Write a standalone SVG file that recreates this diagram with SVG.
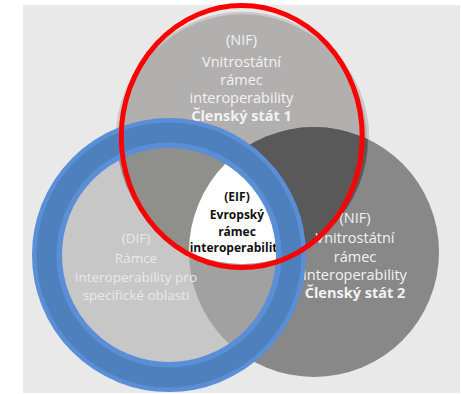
<svg xmlns="http://www.w3.org/2000/svg" width="461" height="394" viewBox="0 0 461 394">
<style>
.w{font-family:"Open Sans","Noto Sans",sans-serif;font-size:14.5px;fill:#f2f2f2;text-anchor:middle}
.wd{font-family:"Open Sans","Noto Sans",sans-serif;font-size:13.5px;fill:#e9e9e9;text-anchor:middle}
.b{font-weight:bold}
.k{font-family:"Open Sans","Noto Sans",sans-serif;font-size:12px;font-weight:bold;fill:#111;text-anchor:middle}
</style>
<defs>
<clipPath id="cA"><circle cx="242.5" cy="138.5" r="125.5"/></clipPath>
<clipPath id="cB"><circle cx="314" cy="252" r="125"/></clipPath>
</defs>
<rect x="0" y="0" width="461" height="394" fill="#ffffff"/>
<rect x="23" y="5" width="437" height="388" fill="#e9e9e9"/>
<g id="areas">
<circle cx="242.5" cy="138.5" r="125.5" fill="#b2afaf" stroke="#cbc9c9" stroke-width="2.5"/>
<circle cx="314" cy="252" r="125" fill="#888888"/>
<circle cx="169" cy="255" r="122" fill="#c7c7c7"/>
<circle cx="314" cy="252" r="125" fill="#595959" clip-path="url(#cA)"/>
<circle cx="169" cy="255" r="122" fill="#8f8f8b" clip-path="url(#cA)"/>
<circle cx="169" cy="255" r="122" fill="#a1a1a1" clip-path="url(#cB)"/>
<g clip-path="url(#cA)"><circle cx="169" cy="255" r="122" fill="#ffffff" clip-path="url(#cB)"/></g>
</g>
<g id="nif1">
<text class="w" x="241.5" y="45">(NIF)</text>
<text class="w" x="241.5" y="66.5">Vnitrostátní</text>
<text class="w" x="241.5" y="84.5">rámec</text>
<text class="w" x="241.5" y="102.5">interoperability</text>
<text class="w b" x="241.5" y="120.5">Členský stát 1</text>
</g>
<g id="nif2">
<text class="w" x="355" y="223">(NIF)</text>
<text class="w" x="355" y="243">Vnitrostátní</text>
<text class="w" x="355" y="262">rámec</text>
<text class="w" x="355" y="280">interoperability</text>
<text class="w b" x="355" y="298">Členský stát 2</text>
</g>
<g id="dif">
<text class="wd" x="136" y="243">(DIF)</text>
<text class="wd" x="136" y="263">Rámce</text>
<text class="wd" x="136" y="281.5">interoperability pro</text>
<text class="wd" x="136" y="300">specifické oblasti</text>
</g>
<g id="eif">
<text class="k" x="237" y="200.5">(EIF)</text>
<text class="k" x="237" y="218.5">Evropský</text>
<text class="k" x="237" y="235.5">rámec</text>
<text class="k" x="237" y="252">interoperability</text>
</g>
<g id="dif-ring" fill="none">
<circle cx="169" cy="255" r="122" stroke="#5a8fd8" stroke-width="30"/>
<circle cx="169" cy="255" r="122.5" stroke="#4f80be" stroke-width="20"/>
</g>
<g id="highlight">
<ellipse cx="241.75" cy="136.6" rx="120.5" ry="131" fill="none" stroke="#ff0000" stroke-width="5"/>
</g>
</svg>
